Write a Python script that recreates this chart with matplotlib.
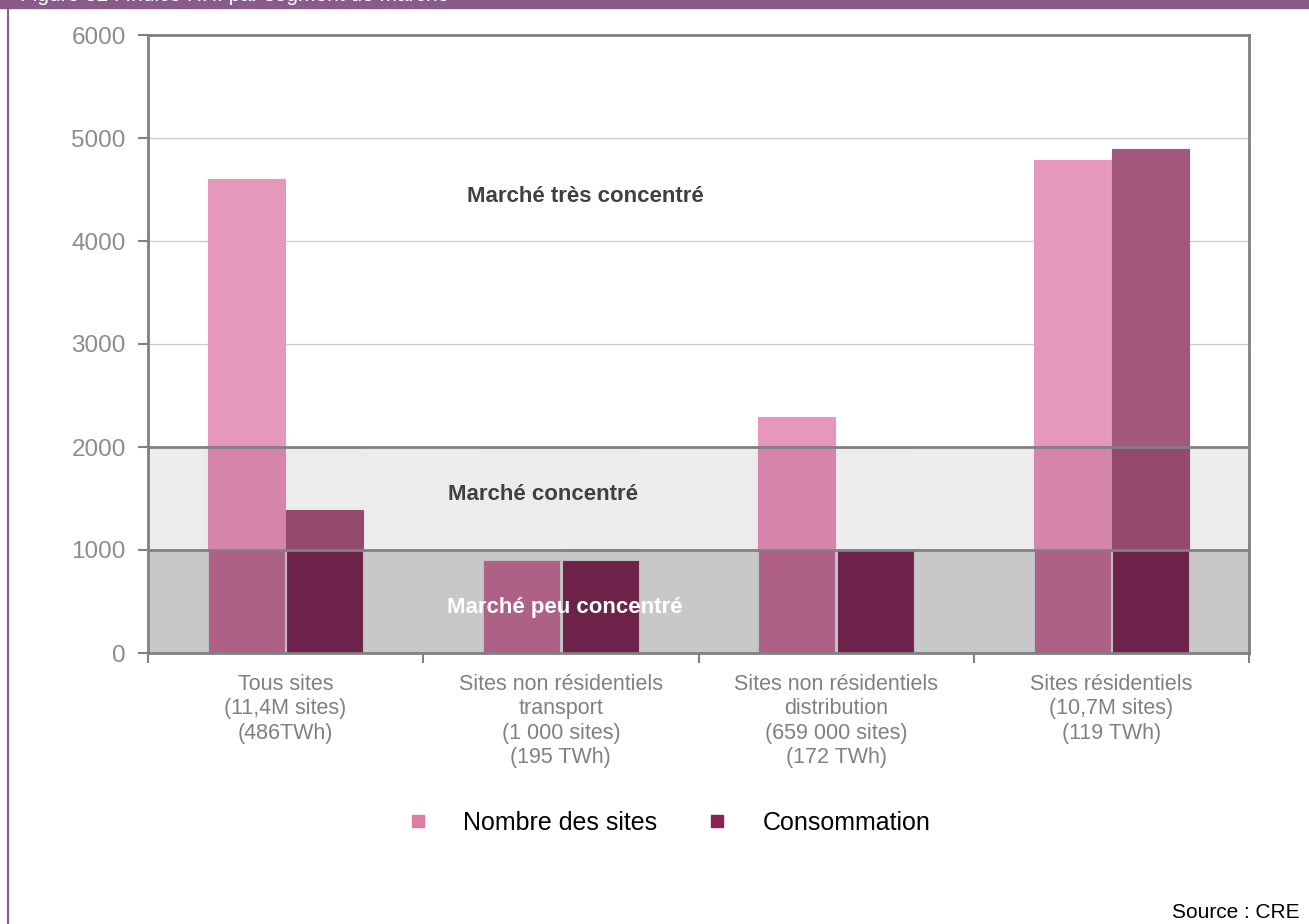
import matplotlib.pyplot as plt
import numpy as np
from matplotlib.lines import Line2D
from matplotlib.patches import Rectangle

plt.rcParams['font.family'] = ['Liberation Sans', 'DejaVu Sans']

# données (indice HHI)
categories = ['Tous sites\n(11,4M sites)\n(486TWh)',
              'Sites non résidentiels\ntransport\n(1 000 sites)\n(195 TWh)',
              'Sites non résidentiels\ndistribution\n(659 000 sites)\n(172 TWh)',
              'Sites résidentiels\n(10,7M sites)\n(119 TWh)']
nombre_sites = [4600, 900, 2290, 4790]
consommation = [1390, 900, 1000, 4890]
seuils = [0, 1000, 2000, 6000]
zones = ['Marché peu concentré', 'Marché concentré', 'Marché très concentré']

# couleurs des barres selon la zone (bande sombre, claire, blanche)
col_nombre = ['#ae6086', '#d585ab', '#e597bc']
col_conso = ['#6d2349', '#934a6d', '#a3577c']
band_cols = ['#c8c8c8', '#ececec', 'white']

fig = plt.figure(figsize=(13.09, 9.24), dpi=100)
ax = fig.add_axes([148/1309, 1-653/924, (1249-148)/1309, (653-35)/924])

x = np.arange(len(categories))
w = 0.285

# bandes de fond
for i in range(3):
    ax.axhspan(seuils[i], seuils[i+1], color=band_cols[i], zorder=0)

# barres découpées par zone
for vals, off, cols in [(nombre_sites, -w/2, col_nombre), (consommation, w/2, col_conso)]:
    for i in range(3):
        lo, hi = seuils[i], seuils[i+1]
        h = np.clip(np.array(vals) - lo, 0, hi - lo)
        ax.bar(x + off, h, w * 0.98, bottom=lo, color=cols[i],
               edgecolor='#bdbdbd' if i == 0 else cols[i], linewidth=0.8, zorder=2)

# quadrillage
for y in [3000, 4000, 5000]:
    ax.axhline(y, color='#c8c8c8', lw=0.9, zorder=1)
for y in [1000, 2000]:
    ax.axhline(y, color='#808080', lw=2, zorder=3)

ax.set_xlim(-0.5, 3.5)
ax.set_ylim(0, 6000)
ax.set_yticks(range(0, 6001, 1000))
ax.set_xticks(np.arange(-0.5, 3.6, 1))
ax.set_xticklabels([])
ax.set_xticks(x, minor=True)
ax.set_xticklabels(categories, minor=True, fontsize=15.5, color='#808080', linespacing=1.22)
ax.tick_params(axis='x', which='minor', length=0, pad=15)
ax.tick_params(axis='x', which='major', length=7, color='#808080', width=1.5)
ax.tick_params(axis='y', length=7, color='#808080', width=1.5, labelsize=17.5,
               labelcolor='#8c8c8c', pad=9)
for s in ax.spines.values():
    s.set_color('#808080')
    s.set_linewidth(2)
    s.set_zorder(4)

ax.text(1.088, 4430, zones[2], ha='center', va='center', fontsize=16,
        fontweight='bold', color='#404040', zorder=5)
ax.text(0.935, 1540, zones[1], ha='center', va='center', fontsize=16,
        fontweight='bold', color='#404040', zorder=5)
ax.text(1.015, 440, zones[0], ha='center', va='center', fontsize=16,
        fontweight='bold', color='white', zorder=5)

# légende
handles = [Line2D([], [], marker='s', ls='', ms=9, color='#e07aa7'),
           Line2D([], [], marker='s', ls='', ms=9, color='#8b2155')]
fig.legend(handles, ['Nombre des sites', 'Consommation'], loc='center',
           bbox_to_anchor=(668/1309, 1-823/924), ncol=2, frameon=False,
           fontsize=18, handlelength=1, handletextpad=1.3, columnspacing=1.9)

# bandeau et bordure
fig.patches.append(Rectangle((0, 1-8/924), 1, 8/924, transform=fig.transFigure,
                             color='#8a5a8c', zorder=0))
fig.add_artist(Line2D([8/1309, 8/1309], [0, 1], color='#8a5a8c', lw=1.5))
fig.text(20/1309, 1-5/924, 'Figure 32 : Indice HHI par segment de marché',
         color='white', fontsize=15, va='bottom')
fig.text(1300/1309, 1-913/924, 'Source : CRE', ha='right', va='center',
         fontsize=15, color='black')

fig.savefig('out.png', dpi=100)
